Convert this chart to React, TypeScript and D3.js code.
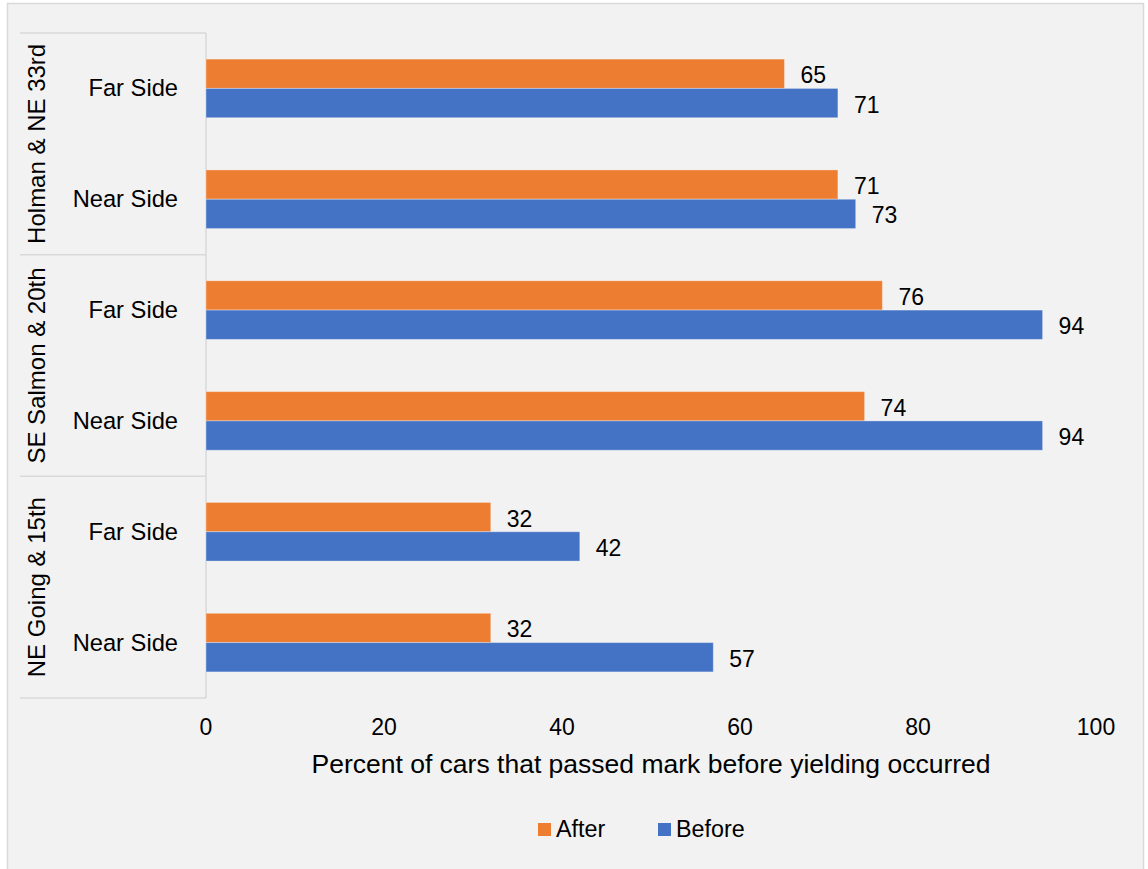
import React from "react";
import * as d3 from "d3";

// Intersections, sides and the two measurement periods
const groups = ["Holman & NE 33rd", "SE Salmon & 20th", "NE Going & 15th"];
const sides = ["Far Side", "Near Side"];
const seriesNames = ["After", "Before"];
const afterValues = [65, 71, 76, 74, 32, 32];
const beforeValues = [71, 73, 94, 94, 42, 57];
const xTicks = [0, 20, 40, 60, 80, 100];
const xTitle = "Percent of cars that passed mark before yielding occurred";

const colors: Record<string, string> = { After: "#ed7d31", Before: "#4472c4" };

type Row = { key: string; group: string; side: string; After: number; Before: number };

const rows: Row[] = [];
groups.forEach((g, gi) => {
  sides.forEach((s, si) => {
    const i = gi * sides.length + si;
    rows.push({ key: `${g}|${s}`, group: g, side: s, After: afterValues[i], Before: beforeValues[i] });
  });
});

const W = 1148;
const H = 869;
const plotLeft = 206;
const plotRight = 1096;
const plotTop = 33;
const plotBottom = 698;
const boxLeft = 20;
const font = "Liberation Sans, Arial, sans-serif";
const gridColor = "#d9d9d9";

export default function App() {
  const x = d3.scaleLinear().domain([0, 100]).range([plotLeft, plotRight]);
  const y = d3
    .scaleBand<string>()
    .domain(rows.map((r) => r.key))
    .range([plotTop, plotBottom])
    .paddingInner(0.471)
    .paddingOuter(0.2355);
  const ySeries = d3.scaleBand<string>().domain(seriesNames).range([0, y.bandwidth()]);
  const step = y.step();

  return (
    <svg
      width={W}
      height={H}
      style={{ position: "absolute", left: 0, top: 0, background: "#ffffff" }}
      fontFamily={font}
    >
      <rect x={7.5} y={3.5} width={1136} height={H + 10} fill="#f2f2f2" stroke="#d9d9d9" strokeWidth={1.5} />

      {/* category axis box */}
      <line x1={plotLeft} x2={plotLeft} y1={plotTop} y2={plotBottom} stroke={gridColor} strokeWidth={1.5} />
      {groups.map((g, gi) => {
        const y0 = plotTop + gi * sides.length * step;
        const y1 = y0 + sides.length * step;
        return (
          <g key={g}>
            <line x1={boxLeft} x2={plotLeft} y1={y0} y2={y0} stroke={gridColor} strokeWidth={1.5} />
            {gi === groups.length - 1 && (
              <line x1={boxLeft} x2={plotLeft} y1={y1} y2={y1} stroke={gridColor} strokeWidth={1.5} />
            )}
            <text
              transform={`translate(45,${(y0 + y1) / 2}) rotate(-90)`}
              textAnchor="middle"
              fontSize={24}
              fill="#000"
            >
              {g}
            </text>
          </g>
        );
      })}

      {rows.map((r) => {
        const cy = (y(r.key) as number) + y.bandwidth() / 2;
        return (
          <text key={r.key} x={178} y={cy + 8} textAnchor="end" fontSize={23.7} fill="#000">
            {r.side}
          </text>
        );
      })}

      {/* bars with value labels */}
      {rows.map((r) =>
        seriesNames.map((s) => {
          const v = r[s as "After" | "Before"];
          const by = (y(r.key) as number) + (ySeries(s) as number);
          const bh = ySeries.bandwidth();
          return (
            <g key={r.key + s}>
              <rect
                x={x(0)}
                y={by}
                width={x(v) - x(0)}
                height={bh}
                fill={colors[s]}
                stroke="#ffffff"
                strokeOpacity={0.35}
                strokeWidth={1}
              />
              <text x={x(v) + 16} y={by + bh / 2 + 9.5} fontSize={23} fill="#000">
                {v}
              </text>
            </g>
          );
        })
      )}

      {/* value axis */}
      {xTicks.map((t) => (
        <text key={t} x={x(t)} y={735} textAnchor="middle" fontSize={23} fill="#000">
          {t}
        </text>
      ))}
      <text x={(plotLeft + plotRight) / 2} y={773} textAnchor="middle" fontSize={26.5} fill="#000">
        {xTitle}
      </text>

      {/* legend */}
      {seriesNames.map((s, i) => {
        const lx = [538, 658][i];
        return (
          <g key={s}>
            <rect x={lx} y={823} width={13} height={13} fill={colors[s]} />
            <text x={lx + 18} y={836.5} fontSize={23.3} fill="#000">
              {s}
            </text>
          </g>
        );
      })}
    </svg>
  );
}
